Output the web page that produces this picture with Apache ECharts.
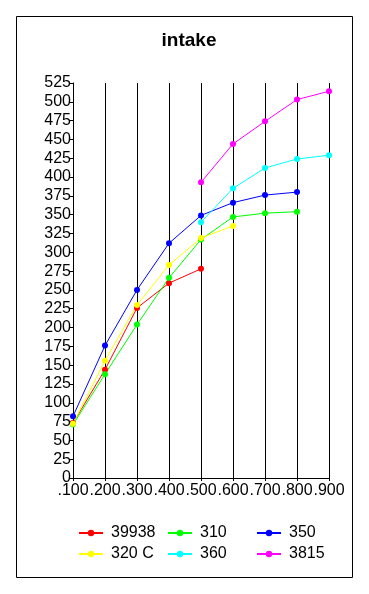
<!DOCTYPE html>
<html>
<head>
<meta charset="utf-8">
<script src="https://cdn.jsdelivr.net/npm/echarts@6/dist/echarts.min.js"></script>
<style>
html,body{margin:0;padding:0;background:#fff;}
#c{width:369px;height:594px;}
</style>
</head>
<body>
<div id="c"></div>
<script>
var categories = ['.100', '.200', '.300', '.400', '.500', '.600', '.700', '.800', '.900'];
var s39938 = [73, 144, 226, 259, 278, null, null, null, null];
var s310 = [71, 138, 204, 266, 317, 347, 352, 354, null];
var s350 = [82, 176, 250, 312, 349, 366, 376, 380, null];
var s320C = [72, 156, 230, 283, 319, 335, null, null, null];
var s360 = [null, null, null, null, 340, 385, 412, 424, 429];
var s3815 = [null, null, null, null, 393, 444, 474, 503, 514];
var yTicks = {min: 0, max: 525, interval: 25};

var FONT = '"Liberation Sans", Arial, sans-serif';

function mk(name, data, color) {
  return {
    name: name, type: 'line', data: data,
    symbol: 'circle', symbolSize: 6,
    itemStyle: {color: color},
    lineStyle: {color: color, width: 1},
    connectNulls: false
  };
}

function legend(left, names) {
  return {
    orient: 'vertical', left: left, top: 520,
    itemWidth: 24, itemHeight: 8, itemGap: 5,
    data: names,
    textStyle: {fontFamily: FONT, fontSize: 16, color: '#000', padding: [0, 0, 0, 3]},
    selectedMode: false
  };
}

var chart = echarts.init(document.getElementById('c'), null, {renderer: 'canvas'});
chart.setOption({
  animation: false,
  backgroundColor: '#fff',
  title: {
    text: 'intake', left: 184, textAlign: 'center', top: 26,
    textStyle: {fontFamily: FONT, fontSize: 19, fontWeight: 'bold', color: '#000'}
  },
  graphic: [{
    type: 'rect', shape: {x: 16.5, y: 16.5, width: 336, height: 561},
    style: {fill: null, stroke: '#000', lineWidth: 1}, silent: true, z: -1
  }],
  legend: [
    legend(73, ['39938', '320 C']),
    legend(162, ['310', '360']),
    legend(251, ['350', '3815'])
  ],
  grid: {left: 73, right: 40, top: 83, bottom: 116},
  xAxis: {
    type: 'category', data: categories, boundaryGap: false,
    axisLine: {lineStyle: {color: '#000', width: 1}},
    axisTick: {show: true, length: 3, lineStyle: {color: '#000'}},
    axisLabel: {interval: 0, fontFamily: FONT, fontSize: 16, color: '#000', margin: 5},
    splitLine: {show: true, lineStyle: {color: '#000', width: 1}}
  },
  yAxis: {
    type: 'value', min: yTicks.min, max: yTicks.max, interval: yTicks.interval,
    axisLine: {show: true, lineStyle: {color: '#000', width: 1}},
    axisTick: {show: true, length: 3, lineStyle: {color: '#000'}},
    axisLabel: {fontFamily: FONT, fontSize: 16, color: '#000', margin: 2},
    splitLine: {show: false}
  },
  series: [
    mk('39938', s39938, '#ff0000'),
    mk('310', s310, '#00ff00'),
    mk('350', s350, '#0000ff'),
    mk('320 C', s320C, '#ffff00'),
    mk('360', s360, '#00ffff'),
    mk('3815', s3815, '#ff00ff')
  ]
});
</script>
</body>
</html>
